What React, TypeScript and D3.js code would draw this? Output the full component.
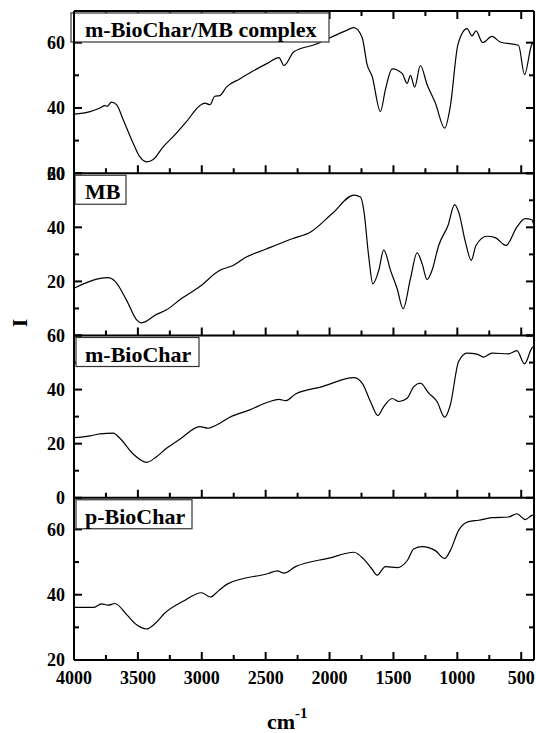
import React from "react";
import * as d3 from "d3";

// wavenumbers (cm-1) and intensities
const complexWn = [4000, 3875, 3797, 3758, 3740, 3706, 3667, 3615, 3537, 3484, 3432, 3380, 3302, 3224, 3120, 3016, 2977, 2937, 2898, 2859, 2807, 2703, 2599, 2480, 2396, 2357, 2279, 2109, 1992, 1875, 1810, 1745, 1706, 1667, 1602, 1563, 1510, 1432, 1393, 1367, 1334, 1289, 1237, 1172, 1099, 1055, 995, 924, 885, 854, 802, 729, 664, 521, 474, 417, 400];
const complexI = [38.1, 38.9, 40, 40.7, 40.5, 41.8, 41, 36.4, 29.2, 25, 23.5, 24.2, 28.1, 31.2, 35.8, 40.7, 41.5, 41, 43.6, 43.8, 46.4, 48.9, 51.3, 53.8, 55.4, 53, 57.2, 59.5, 61.6, 63.6, 64.6, 61.6, 53.3, 49.7, 38.9, 45.6, 52, 50.6, 47.5, 50, 46.4, 53, 47.2, 41.5, 33.8, 40.5, 59.5, 64.3, 62.1, 63.6, 60, 61.9, 60.2, 59.2, 50.2, 59.5, 60];

const mbWn = [4000, 3732, 3680, 3588, 3510, 3471, 3354, 3276, 3172, 3016, 2859, 2755, 2651, 2500, 2292, 2148, 1979, 1810, 1758, 1732, 1693, 1661, 1615, 1576, 1523, 1471, 1424, 1367, 1315, 1276, 1237, 1198, 1146, 1073, 1021, 990, 937, 891, 854, 768, 703, 620, 534, 469, 417, 400];
const mbI = [17.5, 21.4, 20.1, 13, 5.8, 4.7, 7.8, 9.5, 13.2, 18.1, 24.1, 25.9, 29, 31.9, 35.8, 38.3, 45.1, 51.9, 51.2, 46.3, 29, 19.1, 24.1, 31.7, 24.1, 17.3, 9.9, 21, 30.6, 26.6, 20.7, 24.1, 33.3, 40.7, 48.4, 45.7, 34.6, 27.8, 33.3, 36.7, 36.2, 33.3, 40.1, 43.2, 42.8, 40.5];

const mWn = [4000, 3875, 3797, 3693, 3641, 3537, 3432, 3354, 3276, 3172, 3016, 2951, 2885, 2781, 2625, 2480, 2396, 2344, 2266, 2057, 1810, 1745, 1680, 1622, 1576, 1510, 1458, 1393, 1341, 1289, 1224, 1159, 1099, 1055, 990, 924, 846, 794, 729, 599, 534, 474, 417, 400];
const mI = [22.2, 22.9, 23.6, 23.9, 22, 16.2, 13.1, 15.2, 18.3, 21.6, 26.3, 25.7, 26.9, 29.8, 32.5, 35.4, 36.4, 35.9, 38.4, 41.1, 44.4, 42.4, 35.6, 30.4, 33.7, 36.7, 35.6, 36.8, 41.1, 42.4, 38.7, 35.6, 29.8, 34.3, 50.4, 53.5, 53.1, 52, 53.5, 53.2, 54.4, 49.5, 55.3, 56];

const pWn = [4000, 3849, 3784, 3732, 3680, 3588, 3510, 3432, 3367, 3289, 3146, 3002, 2932, 2872, 2794, 2480, 2409, 2357, 2266, 2005, 1810, 1732, 1667, 1628, 1563, 1471, 1393, 1341, 1276, 1172, 1099, 1055, 990, 912, 833, 729, 599, 534, 469, 417, 400];
const pI = [36.1, 36.1, 37.2, 36.8, 37.3, 33.9, 30.8, 29.5, 31.1, 34.4, 38, 40.6, 39.3, 41.1, 43.4, 46.5, 47.3, 46.6, 48.6, 51.2, 53, 50.9, 47.8, 46, 48.6, 48.3, 50.4, 54, 54.7, 53.5, 51.1, 53.5, 59.7, 62.4, 62.8, 63.6, 63.8, 64.8, 63, 64.3, 64.5];

const panelNames = ["m-BioChar/MB complex", "MB", "m-BioChar", "p-BioChar"];
const panelYMin = [20, 0, 0, 20];
const panelYMax = [69.7, 60, 60, 69.7];
const panelMajor = [[20, 40, 60], [0, 20, 40, 60], [0, 20, 40, 60], [20, 40, 60]];
const panelMinor = [[30, 50], [10, 30, 50], [10, 30, 50], [30, 50]];
const xMajor = [4000, 3500, 3000, 2500, 2000, 1500, 1000, 500];
const xMinor = [3750, 3250, 2750, 2250, 1750, 1250, 750];

const seriesWn = [complexWn, mbWn, mWn, pWn];
const seriesI = [complexI, mbI, mI, pI];

const W = 536;
const H = 733;
const left = 74;
const right = 534;
const top0 = 11;
const bottom = 660;
const panelH = (bottom - top0) / 4;
const boxLeft = [71, 75, 76, 76];
const boxW = [258, 51, 123, 116];
const font = "'Liberation Serif', 'Times New Roman', serif";

export default function App() {
  const x = d3.scaleLinear().domain([4000, 400]).range([left, right]);
  return (
    <svg width={W} height={H} style={{ position: "absolute", left: 0, top: 0 }} fontFamily={font} fontWeight="bold">
      <rect width={W} height={H} fill="white" />
      {panelNames.map((name, i) => {
        const t = top0 + i * panelH;
        const b = t + panelH;
        const y = d3.scaleLinear().domain([panelYMin[i], panelYMax[i]]).range([b, t]);
        const pts: [number, number][] = seriesWn[i].map((w, k) => [x(w), y(seriesI[i][k])]);
        const line = d3.line().curve(d3.curveMonotoneX)(pts) || "";
        // the bottom label of a panel coincides with the top label of the next one
        const labels = panelMajor[i].filter((v) => !(i === 1 && v === 0));
        return (
          <g key={name}>
            <path d={line} fill="none" stroke="black" strokeWidth={1.2} />
            {panelMajor[i].map((v) => (
              <g key={"M" + v}>
                <line x1={left} x2={left + 8} y1={y(v)} y2={y(v)} stroke="black" strokeWidth={2} />
                <line x1={right} x2={right - 8} y1={y(v)} y2={y(v)} stroke="black" strokeWidth={2} />
              </g>
            ))}
            {labels.map((v) => (
              <text key={"L" + v} x={65} y={y(v)} dy="0.35em" textAnchor="end" fontSize={18}>{v}</text>
            ))}
            {panelMinor[i].map((v) => (
              <g key={"m" + v}>
                <line x1={left} x2={left + 5} y1={y(v)} y2={y(v)} stroke="black" strokeWidth={2} />
                <line x1={right} x2={right - 5} y1={y(v)} y2={y(v)} stroke="black" strokeWidth={2} />
              </g>
            ))}
            {xMajor.map((w) => (
              <line key={"xM" + w} x1={x(w)} x2={x(w)} y1={b} y2={b - 8} stroke="black" strokeWidth={2} />
            ))}
            {xMinor.map((w) => (
              <line key={"xm" + w} x1={x(w)} x2={x(w)} y1={b} y2={b - 5} stroke="black" strokeWidth={2} />
            ))}
            {i === 0 && xMajor.map((w) => (
              <line key={"tM" + w} x1={x(w)} x2={x(w)} y1={t} y2={t + 8} stroke="black" strokeWidth={2} />
            ))}
            {i === 0 && xMinor.map((w) => (
              <line key={"tm" + w} x1={x(w)} x2={x(w)} y1={t} y2={t + 5} stroke="black" strokeWidth={2} />
            ))}
            <line x1={left} x2={right} y1={b} y2={b} stroke="black" strokeWidth={2} />
            {i === 0 && <line x1={left} x2={right} y1={t} y2={t} stroke="black" strokeWidth={2} />}
            <rect x={boxLeft[i]} y={t + 2} width={boxW[i]} height={29} fill="white" stroke="#333" strokeWidth={1.2} />
            <text x={85} y={t + 26} fontSize={22}>{name}</text>
          </g>
        );
      })}
      <line x1={left} x2={left} y1={top0} y2={bottom} stroke="black" strokeWidth={2} />
      <line x1={right} x2={right} y1={top0} y2={bottom} stroke="black" strokeWidth={2} />
      {xMajor.map((w) => (
        <text key={"xl" + w} x={x(w)} y={684} textAnchor="middle" fontSize={18}>{w}</text>
      ))}
      <text x={267} y={729} fontSize={22}>
        cm<tspan dy={-11} fontSize={15}>-1</tspan>
      </text>
      <text transform="translate(27,323) rotate(-90)" textAnchor="middle" fontSize={22}>I</text>
    </svg>
  );
}
